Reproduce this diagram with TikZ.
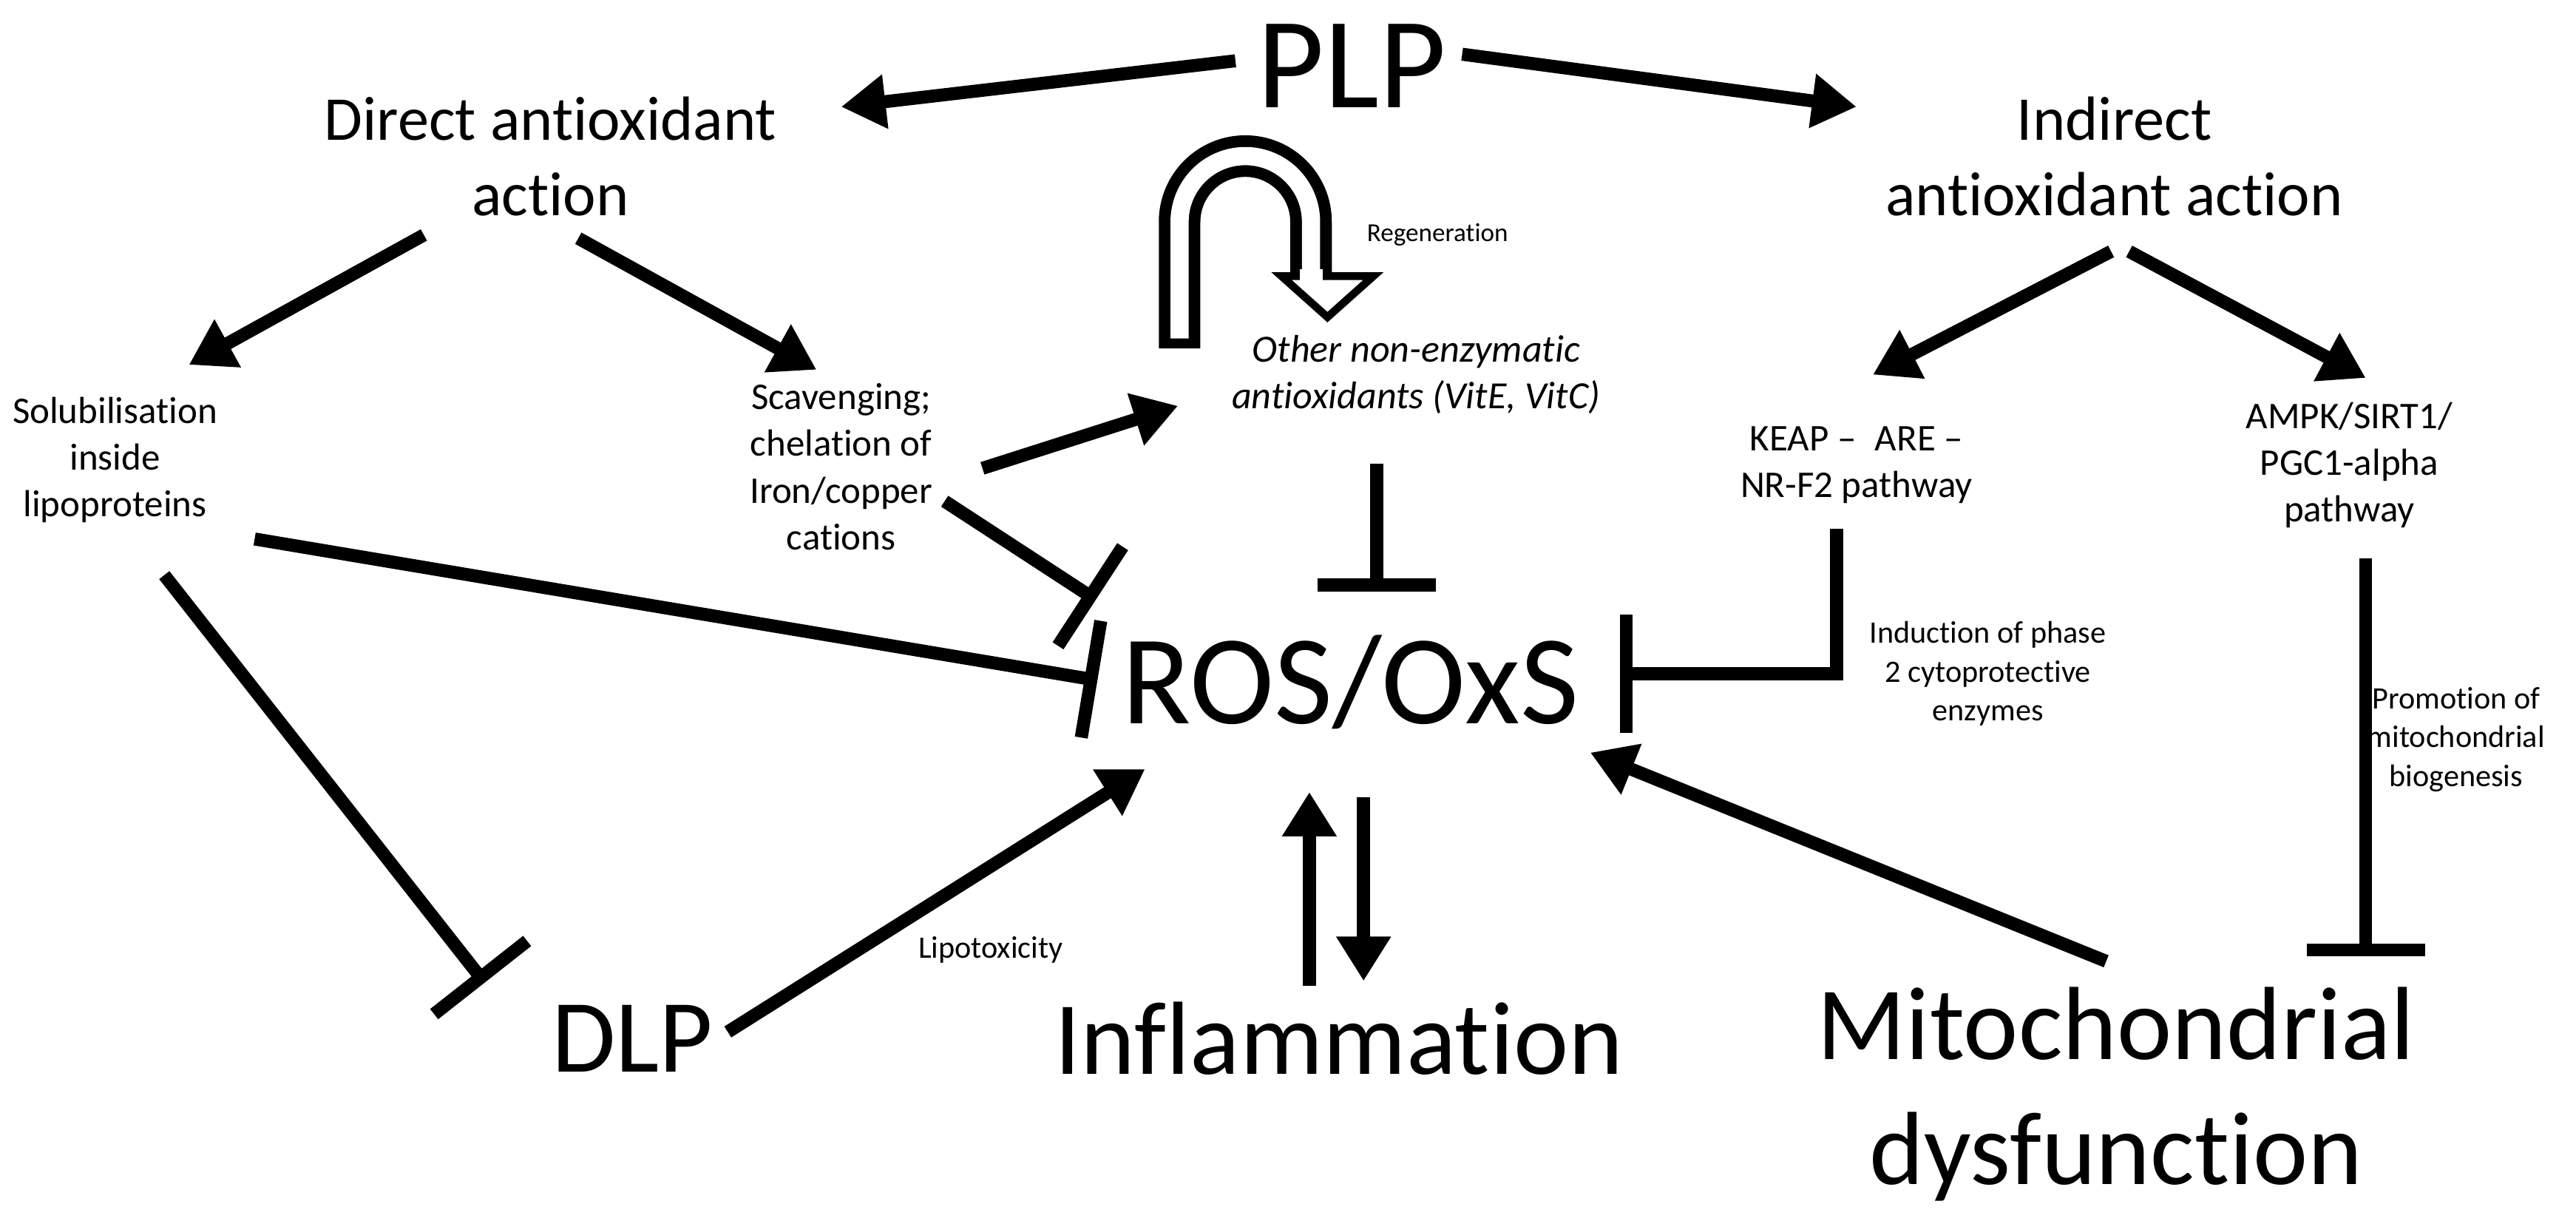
\documentclass[tikz,border=0pt]{standalone}
\usepackage{fontspec}
\setmainfont{Carlito}[Ligatures={NoCommon,NoContextual}]
\usetikzlibrary{arrows.meta}
\tikzset{
	con/.style={line width=5pt, -{Triangle[length=0.6cm, width=0.7cm]}},
	inh/.style={line width=5pt, -{Bar[width=1.6cm, line width=5pt]}},
	big/.style={font=\fontsize{50}{56}\selectfont},
	mid/.style={font=\fontsize{40}{43}\selectfont, align=center},
	head/.style={font=\fontsize{24}{29}\selectfont, align=center},
	lab/.style={font=\fontsize{14.5}{18}\selectfont, align=center},
	tiny/.style={font=\fontsize{12}{15}\selectfont, align=center}
}
\begin{document}
\begin{tikzpicture}[x={(0.02222cm,0)}, y={(0,-0.02222cm)}]
	\useasboundingbox (0,0) rectangle (1568,743);
	% main texts
	\node[big] (plp) at (823,40) {PLP};
	\node[head] (dir) at (335,95) {Direct antioxidant\\action};
	\node[head] (ind) at (1287,95) {Indirect\\antioxidant action};
	\node[lab] (sol) at (70,280) {Solubilisation\\inside\\lipoproteins};
	\node[lab] (scav) at (512,284) {Scavenging;\\chelation of\\Iron/copper\\cations};
	\node[lab, font=\fontsize{14.8}{18}\selectfont\itshape] (oth) at (862,228) {Other non-enzymatic\\antioxidants (VitE, VitC)};
	\node[lab] (keap) at (1130,283) {KEAP --\enspace ARE --\\NR-F2 pathway};
	\node[lab] (ampk) at (1430,283) {AMPK/SIRT1/\\PGC1-alpha\\pathway};
	\node[font=\fontsize{49}{54}\selectfont] (ros) at (822,415) {ROS/OxS};
	\node[mid] (dlp) at (385,632) {DLP};
	\node[mid] (infl) at (815,632) {Inflammation};
	\node[mid, font=\fontsize{40}{48}\selectfont] (mito) at (1288,666) {Mitochondrial\\dysfunction};
	\node[tiny, font=\fontsize{10}{12}\selectfont] (regen) at (875,143) {Regeneration};
	\node[tiny] (phase) at (1210,410) {Induction of phase\\2 cytoprotective\\enzymes};
	\node[tiny] (promo) at (1495,450) {Promotion of\\mitochondrial\\biogenesis};
	\node[tiny] (lipo) at (603,578) {Lipotoxicity};
	% arrows
	\draw[con] (752,37) -- (512,65);
	\draw[con] (890,33) -- (1130,65);
	\draw[con] (258,143) -- (115,222);
	\draw[con] (352,145) -- (497,225);
	\draw[con] (1285,153) -- (1140,228);
	\draw[con] (1296,153) -- (1440,230);
	\draw[con] (598,285) -- (717,247);
	\draw[con] (443,628) -- (697,468);
	\draw[con] (797,600) -- (797,482);
	\draw[con] (830,485) -- (830,597);
	\draw[con] (1282,585) -- (968,458);
	% inhibitions
	\draw[inh] (575,305) -- (667,365);
	\draw[inh] (838,282) -- (838,360);
	\draw[inh] (155,328) -- (668,414);
	\draw[inh] (1118,322) -- (1118,410) -- (986,410);
	\draw[inh] (1440,340) -- (1440,582);
	\draw[inh] (100,350) -- (295,598);
	% regeneration loop
	\draw[line width=16pt] (718,212) -- (718,135) arc (180:360:40) -- (798,168);
	\draw[line width=7pt, white] (718,206) -- (718,135) arc (180:360:40) -- (798,172);
	\draw[line width=3pt, fill=white] (780,168) -- (836,168) -- (808,193) -- cycle;
	\fill[white] (791,164) rectangle (805,172);
\end{tikzpicture}
\end{document}
